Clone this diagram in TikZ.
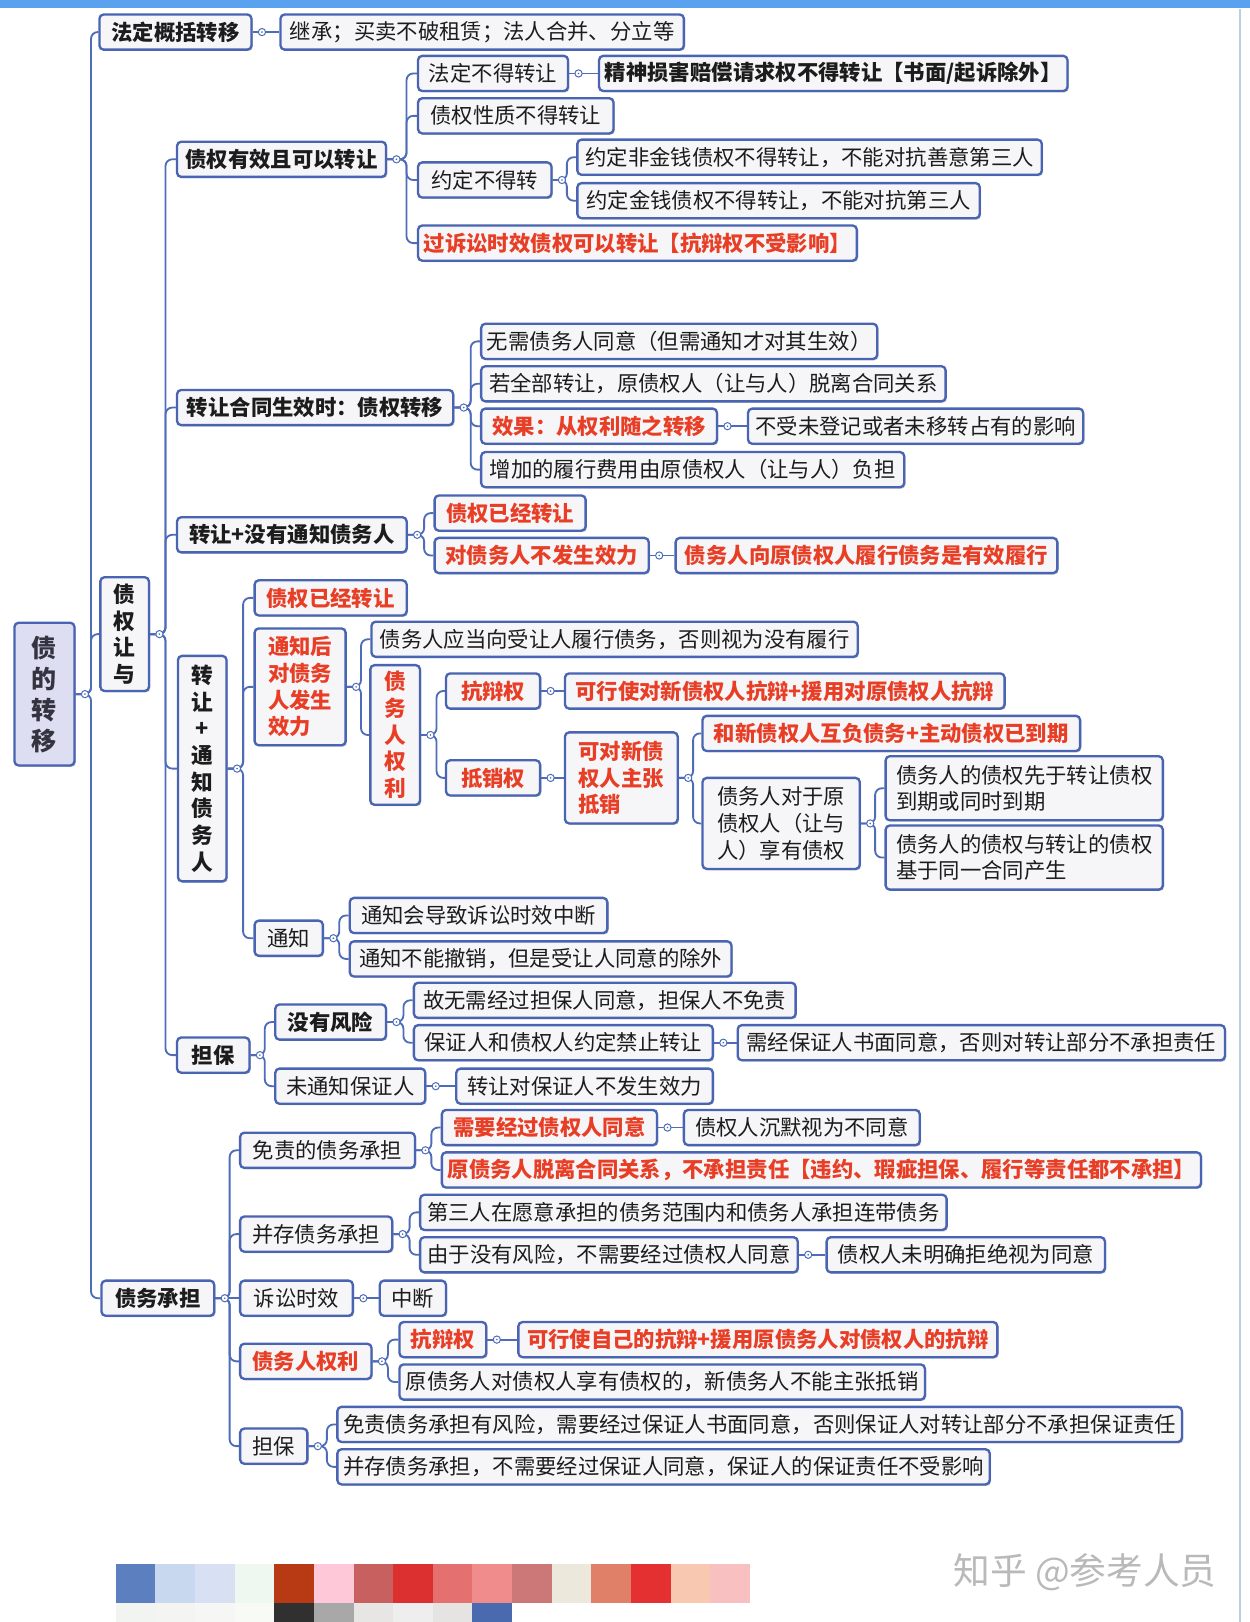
\documentclass[tikz,border=0pt]{standalone}
\usepackage{fontspec}
\setmainfont{Noto Sans CJK SC}
\usetikzlibrary{calc,shadows}
\newdimen\ux \ux=0.62pt
\definecolor{bblue}{RGB}{72,100,178}
\definecolor{cblue}{RGB}{78,108,184}
\definecolor{bfill}{RGB}{246,245,247}
\definecolor{rootfill}{RGB}{221,222,241}
\definecolor{rtext}{RGB}{232,62,38}
\definecolor{ktext}{RGB}{28,28,28}
\definecolor{topbar}{RGB}{90,162,240}
\definecolor{edgeline}{RGB}{185,208,222}
\definecolor{wmgray}{RGB}{185,185,185}
\definecolor{sw0}{HTML}{5B7FBF}\definecolor{sw1}{HTML}{C8D8EE}\definecolor{sw2}{HTML}{D8E0F4}\definecolor{sw3}{HTML}{EEF8F0}
\definecolor{sw4}{HTML}{B83A14}\definecolor{sw5}{HTML}{FFC8D8}\definecolor{sw6}{HTML}{C86060}\definecolor{sw7}{HTML}{DC3030}
\definecolor{sw8}{HTML}{E47070}\definecolor{sw9}{HTML}{F08C8C}\definecolor{sw10}{HTML}{CC7878}\definecolor{sw11}{HTML}{ECE8DC}
\definecolor{sw12}{HTML}{E08068}\definecolor{sw13}{HTML}{E43030}\definecolor{sw14}{HTML}{F8C8B0}\definecolor{sw15}{HTML}{F8C0C0}
\definecolor{sb0}{HTML}{F2F4F2}\definecolor{sb1}{HTML}{F4F4F2}\definecolor{sb2}{HTML}{F6F6F4}\definecolor{sb3}{HTML}{F8FAF6}
\definecolor{sb4}{HTML}{303030}\definecolor{sb5}{HTML}{A8A8A8}\definecolor{sb6}{HTML}{E8E6E4}\definecolor{sb7}{HTML}{EEEEEE}
\definecolor{sb8}{HTML}{E6E4E2}\definecolor{sb9}{HTML}{4A6AB0}
\tikzset{
  base/.style={draw=bblue, line width=1.4pt, rounded corners=2.5pt, fill=bfill, text=ktext,
    inner xsep=3.5pt, inner ysep=0pt, font=\fontsize{12.8}{16}\selectfont,
    drop shadow={shadow xshift=0.8pt, shadow yshift=-0.8pt, opacity=0.22, fill=black}},
  box/.style={base, anchor=west, minimum height=34\ux},
  bbox/.style={box, font=\fontsize{12.8}{16}\selectfont\bfseries},
  rbox/.style={bbox, text=rtext},
  multi/.style={align=left},
  vbox/.style={base, align=center, font=\fontsize{13}{16}\selectfont\bfseries},
  conn/.style={draw=cblue, line width=1.1pt, rounded corners=4pt},
  dotc/.style={circle, draw=cblue, line width=0.6pt, fill=white, inner sep=0pt, minimum size=7\ux,
    path picture={\fill[cblue] (path picture bounding box.center) circle (0.55pt);}},
}
\newcommand\mdot[1]{\node[dotc] at ($(#1.east)+(9,0)$) {};}
\newcommand\brr[3]{\draw[conn] (#1.east) -- (#1.east -| #2) |- (#3.west);}
\newcommand\lnk[2]{\draw[conn] (#1.east) -- (#2.west);}
\begin{document}
\begin{tikzpicture}[x=0.62pt, y=-0.62pt]
\useasboundingbox (0,0) rectangle (1208,1568);
\fill[white] (0,0) rectangle (1208,1568);
\fill[topbar] (0,0) rectangle (1208,8);
\draw[edgeline, line width=1.2pt] (1199,9) -- (1199,1568);

% trunk coordinates
\coordinate (T0) at (88,0);
\coordinate (T1) at (160,0);
\coordinate (T11) at (393,0);
\coordinate (T113) at (548,0);
\coordinate (T12) at (455,0);
\coordinate (T13) at (410,0);
\coordinate (T14) at (235,0);
\coordinate (T142) at (349,0);
\coordinate (T1422) at (422,0);
\coordinate (T14222) at (670,0);
\coordinate (T142222) at (846,0);
\coordinate (T143) at (328,0);
\coordinate (T15) at (256,0);
\coordinate (T151) at (390,0);
\coordinate (T2) at (222,0);
\coordinate (T21) at (417,0);
\coordinate (T22) at (396,0);
\coordinate (T24) at (375,0);
\coordinate (T25) at (316,0);

% ---------- nodes ----------
\node[base, fill=rootfill, minimum width=58\ux, minimum height=138\ux, align=center,
  font=\fontsize{15}{18.6}\selectfont\bfseries, text={rgb,255:red,52;green,52;blue,64}] (root) at (43,671) {债\\的\\转\\移};

\node[bbox, minimum width=147\ux] (fd) at (95,31) {法定概括转移};
\node[box, minimum width=390\ux] (fd1) at (270,31) {继承；买卖不破租赁；法人合并、分立等};
\node[vbox, minimum width=47\ux, minimum height=110\ux] (zq) at (120.5,613) {债\\权\\让\\与};
\node[bbox, minimum width=109\ux] (zw) at (97,1255) {债务承担};

% 债权有效且可以转让
\node[bbox, minimum width=202\ux] (a1) at (170,154) {债权有效且可以转让};
\node[box, minimum width=145\ux] (a11) at (403,71) {法定不得转让};
\node[bbox, minimum width=447\ux] (a111) at (578,71) {精神损害赔偿请求权不得转让【书面/起诉除外】};
\node[box, minimum width=189\ux] (a12) at (403,112) {债权性质不得转让};
\node[box, minimum width=129\ux] (a13) at (403,174) {约定不得转};
\node[box, minimum width=449\ux] (a131) at (557,152) {约定非金钱债权不得转让，不能对抗善意第三人};
\node[box, minimum width=389\ux] (a132) at (557,194) {约定金钱债权不得转让，不能对抗第三人};
\node[rbox, minimum width=419\ux] (a14) at (403,235) {过诉讼时效债权可以转让【抗辩权不受影响】};

% 转让合同生效时
\node[bbox, minimum width=267\ux] (a2) at (170,394) {转让合同生效时：债权转移};
\node[box, minimum width=381\ux] (a21) at (464,330) {无需债务人同意（但需通知才对其生效）};
\node[box, minimum width=449\ux] (a22) at (464,371) {若全部转让，原债权人（让与人）脱离合同关系};
\node[rbox, minimum width=228\ux] (a23) at (464,412) {效果：从权利随之转移};
\node[box, minimum width=324\ux] (a231) at (722,412) {不受未登记或者未移转占有的影响};
\node[box, minimum width=409\ux] (a24) at (464,454) {增加的履行费用由原债权人（让与人）负担};

% 转让+没有通知债务人
\node[bbox, minimum width=222\ux] (a3) at (170,517) {转让+没有通知债务人};
\node[rbox, minimum width=146\ux] (a31) at (419,496) {债权已经转让};
\node[rbox, minimum width=207\ux] (a32) at (419,537) {对债务人不发生效力};
\node[rbox, minimum width=369\ux] (a321) at (652,537) {债务人向原债权人履行债务是有效履行};

% 转让+通知债务人
\node[vbox, minimum width=47\ux, minimum height=218\ux] (a4) at (195.5,743) {转\\让\\+\\通\\知\\债\\务\\人};
\node[rbox, minimum width=147\ux] (a41) at (245,578) {债权已经转让};
\node[rbox, multi, minimum width=88\ux, minimum height=113\ux] (a42) at (245,664) {通知后\\对债务\\人发生\\效力};
\node[box, minimum width=470\ux] (a421) at (358,618) {债务人应当向受让人履行债务，否则视为没有履行};
\node[vbox, text=rtext, minimum width=48\ux, minimum height=135\ux] (a422) at (382,710.5) {债\\务\\人\\权\\利};
\node[rbox, minimum width=91\ux] (a4221) at (430,668) {抗辩权};
\node[rbox, minimum width=425\ux] (a42211) at (545,668) {可行使对新债权人抗辩+援用对原债权人抗辩};
\node[rbox, minimum width=91\ux] (a4222) at (430,752) {抵销权};
\node[rbox, multi, minimum width=109\ux, minimum height=88\ux] (a42221) at (545,752) {可对新债\\权人主张\\抵销};
\node[rbox, minimum width=365\ux] (p1) at (678,709) {和新债权人互负债务+主动债权已到期};
\node[box, multi, minimum width=152\ux, minimum height=88\ux] (p2) at (678,796) {债务人对于原\\债权人（让与\\人）享有债权};
\node[box, multi, minimum width=268\ux, minimum height=62\ux] (p21) at (855,762) {债务人的债权先于转让债权\\到期或同时到期};
\node[box, multi, minimum width=268\ux, minimum height=62\ux] (p22) at (855,829) {债务人的债权与转让的债权\\基于同一合同产生};
\node[box, minimum width=66\ux] (a43) at (245,907) {通知};
\node[box, minimum width=249\ux] (a431) at (337,885) {通知会导致诉讼时效中断};
\node[box, minimum width=369\ux] (a432) at (337,927) {通知不能撤销，但是受让人同意的除外};

% 担保
\node[bbox, minimum width=70\ux] (a5) at (170,1020) {担保};
\node[bbox, minimum width=107\ux] (a51) at (265,988) {没有风险};
\node[box, minimum width=369\ux] (a511) at (399,967) {故无需经过担保人同意，担保人不免责};
\node[box, minimum width=289\ux] (a512) at (399,1008) {保证人和债权人约定禁止转让};
\node[box, minimum width=471\ux] (a5121) at (712,1008) {需经保证人书面同意，否则对转让部分不承担责任};
\node[box, minimum width=145\ux] (a52) at (265,1050) {未通知保证人};
\node[box, minimum width=248\ux] (a521) at (440,1050) {转让对保证人不发生效力};

% 债务承担
\node[box, minimum width=169\ux] (b1) at (231,1112) {免责的债务承担};
\node[rbox, minimum width=208\ux] (b11) at (426,1090) {需要经过债权人同意};
\node[box, minimum width=228\ux] (b111) at (660,1090) {债权人沉默视为不同意};
\node[rbox, minimum width=720\ux] (b12) at (426,1131) {原债务人脱离合同关系，不承担责任【违约、瑕疵担保、履行等责任都不承担】};
\node[box, minimum width=147\ux] (b2) at (231,1193) {并存债务承担};
\node[box, minimum width=509\ux] (b21) at (405,1172) {第三人在愿意承担的债务范围内和债务人承担连带债务};
\node[box, minimum width=365\ux] (b22) at (405,1213) {由于没有风险，不需要经过债权人同意};
\node[box, minimum width=269\ux] (b221) at (798,1213) {债权人未明确拒绝视为同意};
\node[box, minimum width=109\ux] (b3) at (231,1255) {诉讼时效};
\node[box, minimum width=64\ux] (b31) at (366,1255) {中断};
\node[rbox, minimum width=127\ux] (b4) at (231,1316) {债务人权利};
\node[rbox, minimum width=84\ux] (b41) at (385,1295) {抗辩权};
\node[rbox, minimum width=463\ux] (b411) at (500,1295) {可行使自己的抗辩+援用原债务人对债权人的抗辩};
\node[box, minimum width=508\ux] (b42) at (385,1336) {原债务人对债权人享有债权的，新债务人不能主张抵销};
\node[box, minimum width=65\ux] (b5) at (231,1398) {担保};
\node[box, minimum width=812\ux] (b51) at (325,1377) {免责债务承担有风险，需要经过保证人书面同意，否则保证人对转让部分不承担保证责任};
\node[box, minimum width=629\ux] (b52) at (325,1418) {并存债务承担，不需要经过保证人同意，保证人的保证责任不受影响};

% ---------- connectors ----------
\brr{root}{T0}{fd}\brr{root}{T0}{zq}\brr{root}{T0}{zw}
\lnk{fd}{fd1}
\brr{zq}{T1}{a1}\brr{zq}{T1}{a2}\brr{zq}{T1}{a3}\brr{zq}{T1}{a4}\brr{zq}{T1}{a5}
\brr{a1}{T11}{a11}\brr{a1}{T11}{a12}\brr{a1}{T11}{a13}\brr{a1}{T11}{a14}
\lnk{a11}{a111}
\brr{a13}{T113}{a131}\brr{a13}{T113}{a132}
\brr{a2}{T12}{a21}\brr{a2}{T12}{a22}\brr{a2}{T12}{a23}\brr{a2}{T12}{a24}
\lnk{a23}{a231}
\brr{a3}{T13}{a31}\brr{a3}{T13}{a32}
\lnk{a32}{a321}
\brr{a4}{T14}{a41}\brr{a4}{T14}{a42}\brr{a4}{T14}{a43}
\brr{a42}{T142}{a421}\brr{a42}{T142}{a422}
\brr{a422}{T1422}{a4221}\brr{a422}{T1422}{a4222}
\lnk{a4221}{a42211}\lnk{a4222}{a42221}
\brr{a42221}{T14222}{p1}\brr{a42221}{T14222}{p2}
\brr{p2}{T142222}{p21}\brr{p2}{T142222}{p22}
\brr{a43}{T143}{a431}\brr{a43}{T143}{a432}
\brr{a5}{T15}{a51}\brr{a5}{T15}{a52}
\brr{a51}{T151}{a511}\brr{a51}{T151}{a512}
\lnk{a512}{a5121}\lnk{a52}{a521}
\brr{zw}{T2}{b1}\brr{zw}{T2}{b2}\lnk{zw}{b3}\brr{zw}{T2}{b4}\brr{zw}{T2}{b5}
\brr{b1}{T21}{b11}\brr{b1}{T21}{b12}\lnk{b11}{b111}
\brr{b2}{T22}{b21}\brr{b2}{T22}{b22}\lnk{b22}{b221}
\lnk{b3}{b31}
\brr{b4}{T24}{b41}\brr{b4}{T24}{b42}\lnk{b41}{b411}
\brr{b5}{T25}{b51}\brr{b5}{T25}{b52}

% collapse dots
\foreach \n in {root,fd,zq,a1,a11,a13,a2,a23,a3,a32,a4,a42,a422,a4221,a4222,a42221,p2,a43,a5,a51,a512,a52,zw,b1,b11,b2,b22,b3,b4,b41,b5}{\mdot{\n}}

% swatches
\foreach \i in {0,...,15}{\fill[sw\i] ({112+38.3*\i},1512) rectangle ({112+38.3*(\i+1)},1550);}
\foreach \i in {0,...,9}{\fill[sb\i] ({112+38.3*\i},1550) rectangle ({112+38.3*(\i+1)},1568);}

% watermark
\node[text=wmgray, font=\fontsize{22}{22}\selectfont, anchor=west] (wm) at (916,1520) {知乎 @参考人员};
\end{tikzpicture}
\end{document}
